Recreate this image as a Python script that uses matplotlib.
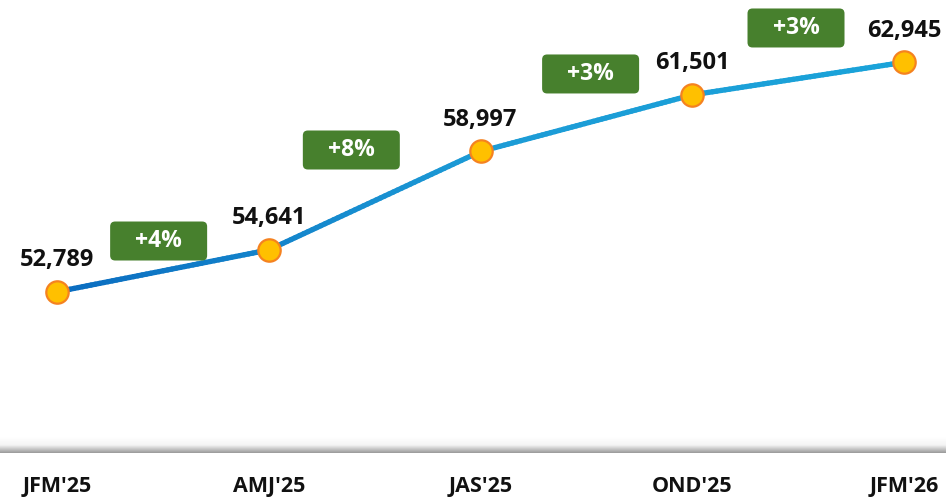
import numpy as np
import matplotlib.pyplot as plt
from matplotlib.collections import LineCollection
from matplotlib.colors import LinearSegmentedColormap
from matplotlib.patches import FancyBboxPatch

# datos
quarters = ["JFM'25", "AMJ'25", "JAS'25", "OND'25", "JFM'26"]
values = [52789, 54641, 58997, 61501, 62945]
growth = ["+4%", "+8%", "+3%", "+3%"]

plt.rcParams['font.family'] = ['Open Sans', 'DejaVu Sans']

W, H = 946, 498
fig = plt.figure(figsize=(W / 100, H / 100), dpi=100)

# sombra gris de la linea base
sh = fig.add_axes([0, (H - 453) / H, 1, 16 / H])
grad = np.linspace(0, 1, 50).reshape(-1, 1)
cm_sh = LinearSegmentedColormap.from_list('sh', ['#9a9a9a', '#f4f4f4', '#ffffff'])
sh.imshow(grad, aspect='auto', cmap=cm_sh, extent=[0, 1, 0, 1], origin='lower')
sh.axis('off')

ax = fig.add_axes([0, (H - 452) / H, 1, 452 / H])
ax.set_facecolor('none')
x = np.arange(len(quarters))

# linea con degradado de azul
xs = np.linspace(0, len(x) - 1, 200)
ys = np.interp(xs, x, values)
pts = np.array([xs, ys]).T.reshape(-1, 1, 2)
segs = np.concatenate([pts[:-1], pts[1:]], axis=1)
cm_line = LinearSegmentedColormap.from_list('ln', ['#0a6cc0', '#1c9bd6', '#1aa3d9'])
lc = LineCollection(segs, cmap=cm_line, linewidth=3.8, capstyle='round')
lc.set_array(xs[:-1])
ax.add_collection(lc)

ax.scatter(x, values, s=260, color='#ffc000', edgecolor='#f58220', linewidth=1.6, zorder=5)

for i, v in enumerate(values):
    ax.annotate(f"{v:,}", (x[i], v), xytext=(0, 14), textcoords='offset points',
                ha='center', va='bottom', fontsize=17, fontweight='bold', color='#111111')

# etiquetas de crecimiento
badge_pos = [(0.48, 55036), (1.39, 59063), (2.52, 62427), (3.49, 64462)]
px_x = 4.0 / 847
px_y = 20000 / 452
for (bx, by), g in zip(badge_pos, growth):
    bw, bh = 97 * px_x, 39 * px_y
    box = FancyBboxPatch((bx - bw / 2, by - bh / 2), bw, bh,
                         boxstyle=f"round,pad=0,rounding_size={5 * px_x}",
                         mutation_aspect=px_y / px_x,
                         facecolor='#47802d', edgecolor='none', zorder=6)
    ax.add_patch(box)
    ax.text(bx, by, g, ha='center', va='center', fontsize=16.5, fontweight='bold',
            color='white', zorder=7)

ax.set_xlim(-57 / 211.75, 4 + 42 / 211.75)
ax.set_ylim(45700, 65700)
ax.set_xticks(x)
ax.set_xticklabels(quarters, fontsize=15.5, fontweight='bold', color='#111111')
ax.tick_params(axis='x', length=0, pad=17)
ax.set_yticks([])
for s in ax.spines.values():
    s.set_visible(False)

fig.savefig('out.png', dpi=100)
